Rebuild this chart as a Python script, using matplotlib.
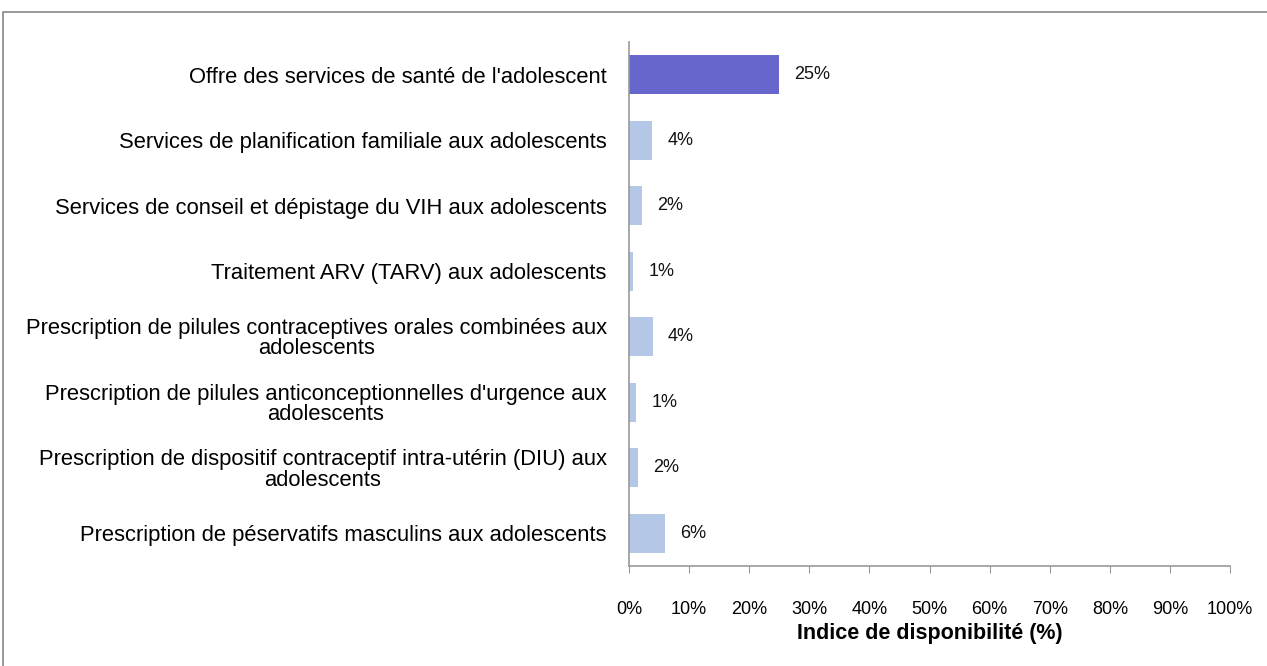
import matplotlib
matplotlib.use('Agg')
import matplotlib.pyplot as plt
from matplotlib.patches import Rectangle

plt.rcParams['font.family'] = ['Liberation Sans', 'DejaVu Sans']

# data
categories = [
    "Offre des services de santé de l'adolescent",
    "Services de planification familiale aux adolescents",
    "Services de conseil et dépistage du VIH aux adolescents",
    "Traitement ARV (TARV) aux adolescents",
    "Prescription de pilules contraceptives orales combinées aux\nadolescents",
    "Prescription de pilules anticonceptionnelles d'urgence aux\nadolescents",
    "Prescription de dispositif contraceptif intra-utérin (DIU) aux\nadolescents",
    "Prescription de péservatifs masculins aux adolescents",
]
values = [25.0, 3.8, 2.1, 0.7, 3.9, 1.2, 1.5, 5.9]
value_labels = ['25%', '4%', '2%', '1%', '4%', '1%', '2%', '6%']
xticks = list(range(0, 101, 10))
xtick_labels = ['{}%'.format(t) for t in xticks]

colors = ['#6666CC'] + ['#B4C7E7'] * (len(values) - 1)

fig = plt.figure(figsize=(12.67, 6.66), dpi=100)
ax = fig.add_axes([0.4965, 0.150, 0.4743, 0.787])

ypos = list(range(len(categories)))
ax.barh(ypos, values, height=0.6, color=colors)
ax.set_ylim(len(categories) - 0.5, -0.5)
ax.set_xlim(0, 100)

for y, v, lab in zip(ypos, values, value_labels):
    ax.annotate(lab, (v, y), xytext=(11, 0), textcoords='offset points',
                va='center', ha='left', fontsize=13, color='#111111')

ax.set_yticks(ypos)
ax.set_yticklabels(categories, fontsize=15.8)
for t in ax.get_yticklabels():
    t.set_multialignment('center')
    t.set_linespacing(0.95)
ax.tick_params(axis='y', length=0, pad=16)

ax.set_xticks(xticks)
ax.set_xticklabels(xtick_labels, fontsize=13)
ax.tick_params(axis='x', length=5, color='#999999', pad=20)
ax.set_xlabel('Indice de disponibilité (%)', fontsize=15.5, fontweight='bold', labelpad=4)

for s in ['top', 'right']:
    ax.spines[s].set_visible(False)
for s in ['left', 'bottom']:
    ax.spines[s].set_color('#999999')
    ax.spines[s].set_linewidth(1.2)

# outer frame around the chart
frame = Rectangle((3 / 1267, -0.05), 1.1, 1 - 12 / 666 + 0.05, transform=fig.transFigure,
                  fill=False, edgecolor='#888888', linewidth=1.2)
fig.patches.append(frame)

fig.savefig('out.png', dpi=100)
